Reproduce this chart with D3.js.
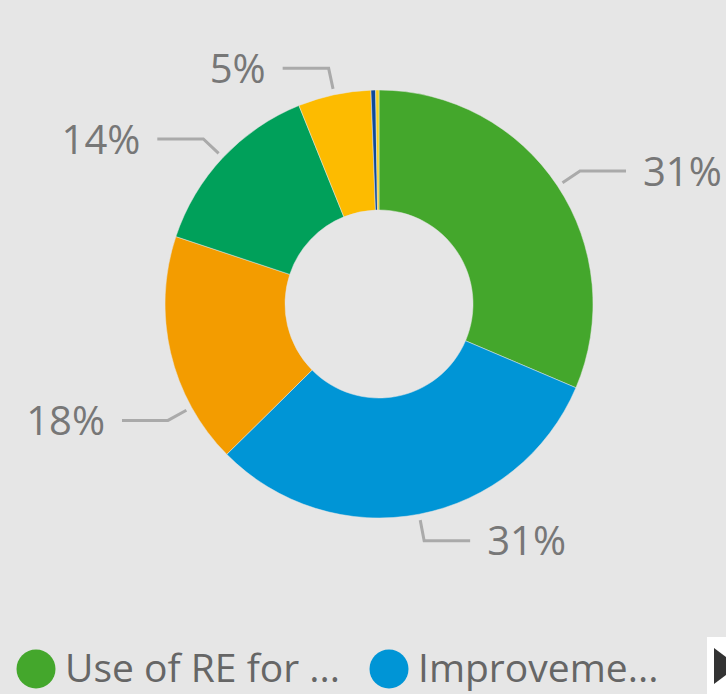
<!DOCTYPE html>
<html lang="en">
<head>
    <meta charset="UTF-8">
    <script src="https://d3js.org/d3.v7.min.js"></script>
    <title>Donut chart</title>
    <style>
        body { margin: 0; background: #e6e6e6; }
        svg { display: block; }
    </style>
</head>
<body>
    <script>

        // chart data
        var categories = ["Use of RE for ...", "Improveme...", "Cat 3", "Cat 4", "Cat 5", "Cat 6", "Cat 7"];
        var values = [31.4, 31.2, 17.5, 13.8, 5.5, 0.35, 0.25];
        var labels = ["31%", "31%", "18%", "14%", "5%", "", ""];
        var colors = ["#44a72c", "#0095d6", "#f39c00", "#00a05a", "#fdbb00", "#0d4a9a", "#f5d31f"];

        var W = 726, H = 694;
        var cx = 379, cy = 304, rOut = 214, rIn = 94;

        var svg = d3.select("body").append("svg").attr("width", W).attr("height", H);

        var data = categories.map(function(c, i){ return {name: c, value: values[i], label: labels[i], color: colors[i]}; });

        var pie = d3.pie().sort(null).value(function(d){ return d.value; });
        var arcs = pie(data);
        var arc = d3.arc().innerRadius(rIn).outerRadius(rOut);

        var g = svg.append("g").attr("transform", "translate(" + cx + "," + cy + ")");

        g.selectAll("path.slice").data(arcs).join("path")
            .attr("class", "slice")
            .attr("d", arc)
            .attr("fill", function(d){ return d.data.color; })
            .attr("stroke", "#e6e6e6")
            .attr("stroke-width", 0.5);

        // where along each slice the leader line starts (orange one was pushed by the layout)
        function labelAngle(d, i){
            var f = (i === 2) ? 0.25 : 0.5;
            return d.startAngle + (d.endAngle - d.startAngle) * f;
        }
        function pt(a, r){ return [Math.sin(a) * r, -Math.cos(a) * r]; }

        var lab = arcs.filter(function(d){ return d.data.label !== ""; });
        lab.forEach(function(d){
            var i = arcs.indexOf(d);
            var a = labelAngle(d, i);
            var p0 = pt(a, 220), p1 = pt(a, 241);
            var right = Math.sin(a) > 0;
            var p2 = [p1[0] + (right ? 46 : -46), p1[1]];
            g.append("polyline")
                .attr("points", [p0, p1, p2].map(function(p){ return p.join(","); }).join(" "))
                .attr("fill", "none")
                .attr("stroke", "#aaaaaa")
                .attr("stroke-width", 3);
            g.append("text")
                .attr("x", p2[0] + (right ? 17 : -17))
                .attr("y", p2[1] + 4)
                .attr("text-anchor", right ? "start" : "end")
                .attr("dominant-baseline", "middle")
                .style("font-family", "'Segoe UI', 'Open Sans', sans-serif")
                .style("font-size", "40px")
                .style("fill", "#777777")
                .text(d.data.label);
        });

        // legend (first two entries visible)
        var legend = [0, 1];
        var lx = [36, 389];
        legend.forEach(function(i, k){
            svg.append("circle").attr("cx", lx[k]).attr("cy", 669).attr("r", 19.5).attr("fill", colors[i]);
            svg.append("text")
                .attr("x", lx[k] + 29).attr("y", 682)
                .style("font-family", "'Segoe UI', 'Open Sans', sans-serif")
                .style("font-size", "39px")
                .style("fill", "#666666")
                .text(categories[i]);
        });

        // pager arrow at the right edge
        svg.append("rect").attr("x", 707).attr("y", 637).attr("width", 30).attr("height", 60).attr("fill", "#ffffff");
        svg.append("path").attr("d", "M714,648 L738,666 L714,684 Z").attr("fill", "#333333");

    </script>
</body>
</html>
